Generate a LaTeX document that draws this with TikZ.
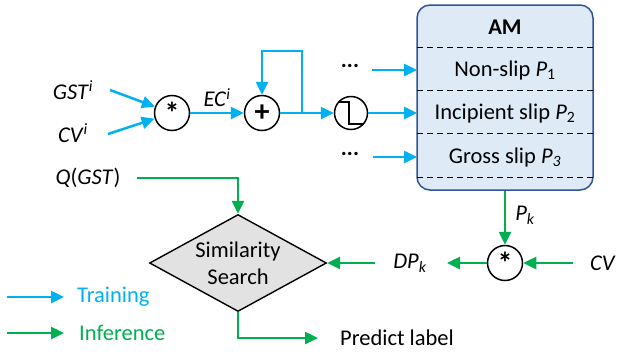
\documentclass[tikz,border=0pt]{standalone}
\usepackage{fontspec}
\setmainfont{Carlito}
\usetikzlibrary{arrows.meta,shapes.geometric,calc}
\definecolor{trainc}{HTML}{00B0F0}
\definecolor{infc}{HTML}{00B050}
\definecolor{amfill}{HTML}{DEEAF6}
\definecolor{amdraw}{HTML}{2F5597}
\definecolor{dfill}{HTML}{E2E2E2}
\tikzset{
  txt/.style={font=\fontsize{22.5}{26}\selectfont, inner sep=0pt},
  op/.style={circle, draw=black, line width=1.5pt, minimum size=35pt, inner sep=0pt, fill=white},
  tarr/.style={draw=trainc, line width=2.5pt, -{Triangle[length=13pt,width=12pt]}},
  iarr/.style={draw=infc, line width=2.5pt, -{Triangle[length=13pt,width=12pt]}},
  dline/.style={draw=black, dashed, dash pattern=on 6pt off 4pt, line width=0.9pt},
}
\begin{document}
\begin{tikzpicture}[x=1pt,y=-1pt]
\useasboundingbox (0,0) rectangle (620,354);
% AM box
\node[draw=amdraw, fill=amfill, line width=1.5pt, rounded corners=13pt, minimum width=176pt, minimum height=185pt, inner sep=0pt] (am) at (505,97.5) {};
\node[txt, font=\fontsize{22.5}{26}\selectfont\bfseries] (amt) at (505,27) {AM};
\coordinate (d1l) at (417,47); \coordinate (d1r) at (593,47);
\coordinate (d2l) at (417,90); \coordinate (d2r) at (593,90);
\coordinate (d3l) at (417,133); \coordinate (d3r) at (593,133);
\coordinate (d4l) at (417,177); \coordinate (d4r) at (593,177);
\draw[dline] (d1l) -- (d1r);
\draw[dline] (d2l) -- (d2r);
\draw[dline] (d3l) -- (d3r);
\draw[dline] (d4l) -- (d4r);
\node[txt] (p1) at (505,70) {Non-slip \textit{P}\textsubscript{1}};
\node[txt] (p2) at (505,113) {Incipient slip \textit{P}\textsubscript{2}};
\node[txt] (p3) at (505,157) {Gross slip \textit{P}\textsubscript{\textit{3}}};
\coordinate (in1) at (417,70);
\coordinate (in2) at (417,113);
\coordinate (in3) at (417,157);
% dots
\node[txt] (dots1) at (350,66) {\textbf{...}};
\node[txt] (dots2) at (350,154) {\textbf{...}};
\coordinate (s1) at (372,70);
\coordinate (s3) at (373,157);
\draw[tarr] (s1) -- (in1);
\draw[tarr] (s3) -- (in3);
% step circle
\node[op, minimum size=33pt] (step) at (351,113) {};
\draw[line width=1.3pt] ($(step.center)+(-13,-11)$) -- ++(11,0) -- ++(0,22) -- ++(15,0);
\draw[tarr] (step.east) -- (in2);
% multiply and add
\node[op] (mul) at (172,113) {\fontsize{30}{30}\selectfont\bfseries\raisebox{-5pt}{*}};
\node[op] (add) at (262,113) {\fontsize{30}{30}\selectfont\bfseries +};
\node[txt] (gst) at (73,90) {\textit{GST}\textsuperscript{\textit{i}}};
\node[txt] (cv) at (73,133) {\textit{CV}\textsuperscript{\textit{i}}};
\coordinate (gs) at (110,90);
\coordinate (cs) at (108,134);
\draw[tarr] (gs) -- (mul);
\draw[tarr] (cs) -- (mul);
\draw[tarr] (mul) -- node[txt, above=5pt] (ec) {\textit{EC}\textsuperscript{\textit{i}}} (add);
\coordinate (fb) at (302,113);
\draw[tarr] (add.east) -- (step.west);
\draw[tarr] (fb) -- ++(0,-62) -| (add.north);
% inference
\node[txt] (q) at (88,178) {\textit{Q}(\textit{GST})};
\node[diamond, draw=black, fill=dfill, line width=1.4pt, minimum width=177pt, minimum height=97pt, inner sep=0pt, aspect=1.8] (sim) at (238,263) {};
\node[txt, align=center, font=\fontsize{22.5}{27}\selectfont] (simt) at (238,263) {Similarity\\Search};
\coordinate (qs) at (137,178);
\draw[iarr] (qs) -| (sim.north);
\node[txt, anchor=west] (pl) at (340,338) {Predict label};
\coordinate (ple) at (318,338);
\draw[iarr] (sim.south) |- (ple);
\node[op] (mul2) at (505,263) {\fontsize{30}{30}\selectfont\bfseries\raisebox{-5pt}{*}};
\draw[iarr] (am.south -| mul2) -- node[txt, right=9pt, pos=0.45] (pk) {\textit{P}\textsubscript{\textit{k}}} (mul2);
\node[txt] (cv2) at (603,263) {\textit{CV}};
\coordinate (cvs) at (573,263);
\draw[iarr] (cvs) -- (mul2);
\node[txt] (dpk) at (410,263) {\textit{DP}\textsubscript{\textit{k}}};
\coordinate (dpe) at (447,263);
\draw[iarr] (mul2) -- (dpe);
\coordinate (dps) at (375,263);
\draw[iarr] (dps) -- (sim.east);
% legend
\coordinate (l1a) at (7,297); \coordinate (l1b) at (64,297);
\coordinate (l2a) at (7,333); \coordinate (l2b) at (64,333);
\draw[tarr] (l1a) -- (l1b);
\draw[iarr] (l2a) -- (l2b);
\node[txt, anchor=west, text=trainc] (lt) at (77,297) {Training};
\node[txt, anchor=west, text=infc] (li) at (79,333) {Inference};
\end{tikzpicture}
\end{document}
